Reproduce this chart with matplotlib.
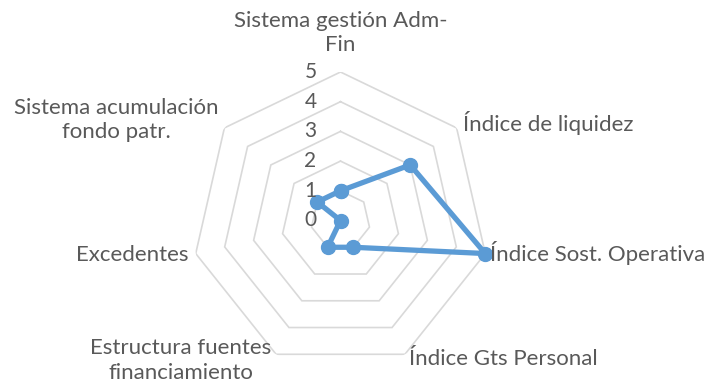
import numpy as np
import matplotlib
matplotlib.use("Agg")
import matplotlib.pyplot as plt

categories = ["Sistema gestión Adm-\nFin", "Índice de liquidez", "Índice Sost. Operativa",
              "Índice Gts Personal", "Estructura fuentes\nfinanciamiento", "Excedentes",
              "Sistema acumulación\nfondo patr."]
values = [1, 3, 5, 1, 1, 0, 1]
radial_ticks = [0, 1, 2, 3, 4, 5]

# label placement (offset in pixels from the outer vertex, alignment)
label_style = [
    ((0, 39), "center", "center"),
    ((6, 5), "left", "center"),
    ((5, 1), "left", "center"),
    ((4, -5), "left", "center"),
    ((-5, -6), "right", "center"),
    ((-7, -1), "right", "center"),
    ((-6, 8), "right", "center"),
]

plt.rcParams['font.family'] = ['Lato', 'DejaVu Sans']
text_color = "#595959"
line_color = "#5B9BD5"
grid_color = "#D9D9D9"
fs = 16

W, H = 706, 390
fig = plt.figure(figsize=(W / 100, H / 100), dpi=100)
cx, cy, R = 340.5, 220.5, 148.5
ax = fig.add_axes([(cx - R) / W, (H - cy - R) / H, 2 * R / W, 2 * R / H], projection='polar')
ax.set_theta_offset(np.pi / 2)
ax.set_theta_direction(-1)
ax.set_ylim(0, 5)
ax.grid(False)
ax.set_xticks([])
ax.set_yticks([])
ax.spines['polar'].set_visible(False)
ax.patch.set_alpha(0)

n = len(categories)
theta = np.arange(n) * 2 * np.pi / n
theta_c = np.append(theta, theta[0])

for r in radial_ticks[1:]:
    ax.plot(theta_c, [r] * (n + 1), color=grid_color, lw=1.2, zorder=1, solid_joinstyle='miter')

vals_c = values + values[:1]
ax.plot(theta_c, vals_c, color=line_color, lw=3.8, marker='o', markersize=10,
        zorder=3, solid_joinstyle='round', clip_on=False)

for r in radial_ticks:
    ax.annotate(str(r), xy=(0, r), xytext=(-30, 0), textcoords='offset pixels',
                ha='center', va='center', fontsize=15, color=text_color, annotation_clip=False)

for t, lab, (off, ha, va) in zip(theta, categories, label_style):
    ax.annotate(lab, xy=(t, 5), xytext=off, textcoords='offset pixels',
                ha=ha, va=va, multialignment='center', fontsize=fs, color=text_color,
                linespacing=1.3, annotation_clip=False)

fig.savefig("out.png", dpi=100, facecolor="white")
